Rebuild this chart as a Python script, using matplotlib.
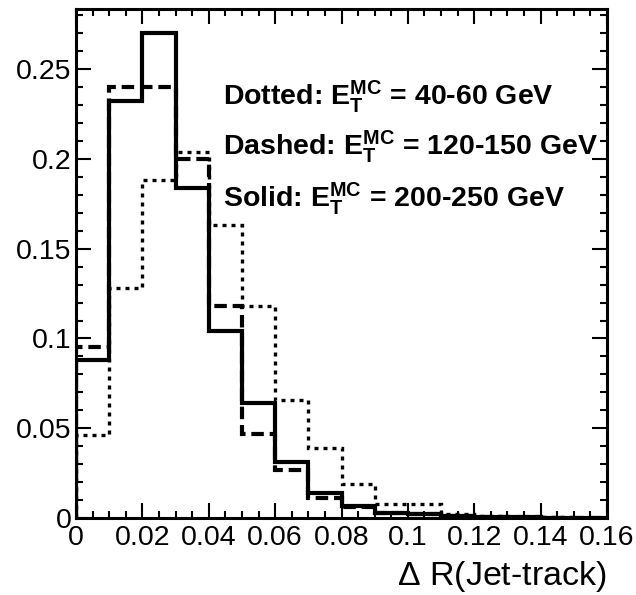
import matplotlib
matplotlib.use("Agg")
import matplotlib.pyplot as plt
import numpy as np
from matplotlib.ticker import MultipleLocator

plt.rcParams['font.family'] = ['Liberation Sans', 'DejaVu Sans']
plt.rcParams['mathtext.fontset'] = 'custom'
plt.rcParams['mathtext.rm'] = 'Liberation Sans'
plt.rcParams['mathtext.bf'] = 'Liberation Sans:bold'
plt.rcParams['mathtext.it'] = 'Liberation Sans:italic'

# delta R bin edges (0 .. 0.16, width 0.01)
edges = np.linspace(0, 0.16, 17)

# normalised distributions
solid = [0.088, 0.232, 0.270, 0.184, 0.104, 0.064, 0.031, 0.014,
         0.0065, 0.003, 0.002, 0.001, 0.0005, 0.0003, 0.0002, 0.0001]
dashed = [0.095, 0.240, 0.240, 0.200, 0.118, 0.047, 0.027, 0.011,
          0.006, 0.003, 0.002, 0.001, 0.0005, 0.0003, 0.0002, 0.0001]
dotted = [0.046, 0.128, 0.188, 0.204, 0.163, 0.118, 0.066, 0.039,
          0.019, 0.008, 0.008, 0.002, 0.001, 0.0005, 0.0003, 0.0002]

xticks = [0, 0.02, 0.04, 0.06, 0.08, 0.1, 0.12, 0.14, 0.16]
xticklabels = ['0', '0.02', '0.04', '0.06', '0.08', '0.1', '0.12', '0.14', '0.16']
yticks = [0, 0.05, 0.1, 0.15, 0.2, 0.25]
yticklabels = ['0', '0.05', '0.1', '0.15', '0.2', '0.25']

labels = [r'Dotted: $\mathbf{E_{T}^{MC}}$ = 40-60 GeV',
          r'Dashed: $\mathbf{E_{T}^{MC}}$ = 120-150 GeV',
          r'Solid: $\mathbf{E_{T}^{MC}}$ = 200-250 GeV']

fig = plt.figure(figsize=(6.36, 5.95), dpi=100)
ax = fig.add_axes([0.1195, 0.1294, 0.8349, 0.8555])

ax.stairs(dotted, edges, color='black', lw=2.4, linestyle=(0, (1.2, 1.5)))
ax.stairs(dashed, edges, color='black', lw=3.0, linestyle=(0, (3.0, 1.4)))
ax.stairs(solid, edges, color='black', lw=3.0)

ax.set_xticks(xticks)
ax.set_xticklabels(xticklabels)
ax.set_yticks(yticks)
ax.set_yticklabels(yticklabels)
ax.xaxis.set_minor_locator(MultipleLocator(0.005))
ax.yaxis.set_minor_locator(MultipleLocator(0.01))
ax.set_xlim(0, 0.16)
ax.set_ylim(0, 0.2835)

ax.tick_params(which='both', direction='in', top=True, right=True, width=1.5)
ax.tick_params(which='major', length=11)
ax.tick_params(which='minor', length=5)
ax.tick_params(axis='x', labelsize=20.5, pad=5)
ax.tick_params(axis='y', labelsize=20.5, pad=3)
for s in ax.spines.values():
    s.set_linewidth(2.2)

ax.set_xlabel(r'$\Delta$ R(Jet-track)', fontsize=24.5, loc='right', labelpad=6)

ys = [0.811, 0.713, 0.612]
for lab, y in zip(labels, ys):
    ax.text(0.277, y, lab, transform=ax.transAxes, fontsize=20.5,
            fontweight='bold', ha='left', va='baseline')

fig.savefig('out.png', dpi=100)
